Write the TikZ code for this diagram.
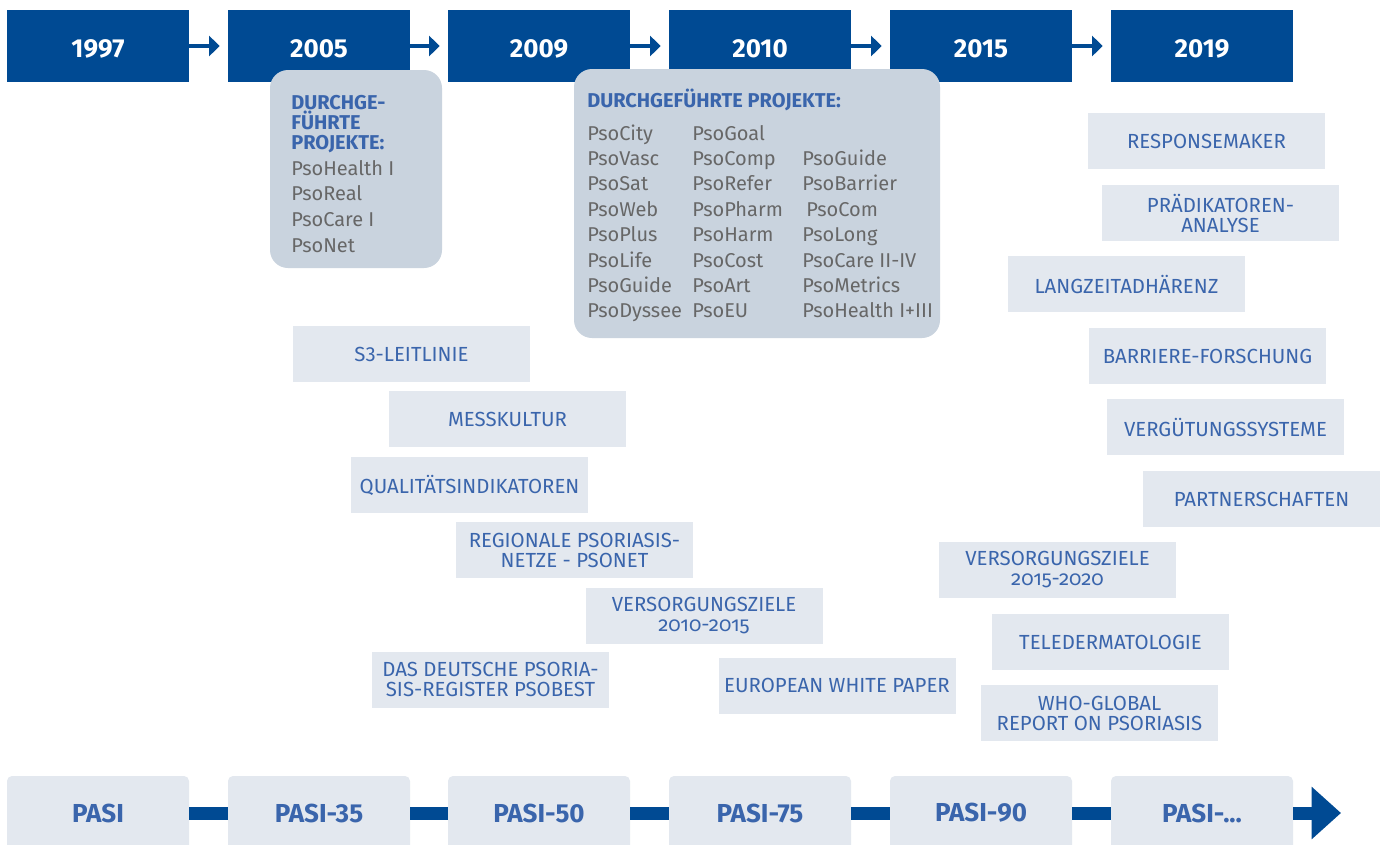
\documentclass[tikz,border=0pt]{standalone}
\usepackage{fontspec}
\setmainfont{Fira Sans}
\newfontfamily\osf[Numbers=OldStyle]{Fira Sans}
\usetikzlibrary{arrows.meta}
\definecolor{navy}{HTML}{004A93}
\definecolor{boxblue}{HTML}{E3E8EF}
\definecolor{projgray}{HTML}{C9D3DE}
\definecolor{labelblue}{HTML}{3A65AC}
\definecolor{itemgray}{HTML}{676767}
\begin{document}
\begin{tikzpicture}[x=0.75pt,y=-0.75pt,
  yearbox/.style={fill=navy, text=white, minimum width=136.5pt, minimum height=54pt,
    inner sep=0pt, text height=16.5pt, text depth=0pt,
    font=\fontsize{19.5}{21}\selectfont\bfseries},
  pasibox/.style={fill=boxblue, text=labelblue, rounded corners=3.75pt,
    minimum width=136.5pt, minimum height=55.5pt, inner sep=0pt,
    font=\fontsize{19.5}{21}\selectfont\bfseries},
  topicbox/.style={fill=boxblue, text=labelblue, minimum width=177.75pt,
    minimum height=42pt, inner sep=0pt, align=center,
    font=\fontsize{15.3}{15}\selectfont},
  projbox/.style={fill=projgray, rounded corners=13.5pt, inner sep=0pt},
  projhead/.style={anchor=base west, inner sep=0pt, text=labelblue,
    font=\fontsize{15}{15}\selectfont\bfseries},
  projitem/.style={anchor=base west, inner sep=0pt, text=itemgray,
    font=\fontsize{15}{18}\selectfont},
  flow/.style={navy, line width=2.6pt, -{Triangle[length=8pt,width=15pt]}},
  bar/.style={navy, line width=9.75pt},
]
\clip (0,0) rectangle (1384,844);
\fill[white] (0,0) rectangle (1384,844);

% year line
\node[yearbox] (y1997) at (98,46)   {1997};
\node[yearbox] (y2005) at (319,46)  {2005};
\node[yearbox] (y2009) at (539,46)  {2009};
\node[yearbox] (y2010) at (760,46)  {2010};
\node[yearbox] (y2015) at (981,46)  {2015};
\node[yearbox] (y2019) at (1202,46) {2019};
\foreach \a/\b in {y1997/y2005, y2005/y2009, y2009/y2010, y2010/y2015, y2015/y2019}
  \draw[flow, shorten >=6pt] (\a.east) -- (\b.west);

% projects 2005
\node[projbox, minimum width=129pt, minimum height=148.5pt] (proj05) at (356,169) {};
\foreach \t [count=\i] in {DURCHGE-, FÜHRTE, PROJEKTE:}
  \node[projhead] (h05-\i) at (291,{89+20*\i}) {\t};
\foreach \t [count=\i] in {PsoHealth I, PsoReal, PsoCare I, PsoNet}
  \node[projitem] (i05-\i) at (291,{149.5+25.7*\i}) {\t};

% projects 2010
\node[projbox, minimum width=274.5pt, minimum height=201.75pt] (proj10) at (757,203.5) {};
\node[projhead] (h10) at (587,107) {DURCHGEFÜHRTE PROJEKTE:};
\foreach \t [count=\i] in {PsoCity, PsoVasc, PsoSat, PsoWeb, PsoPlus, PsoLife, PsoGuide, PsoDyssee}
  \node[projitem] (ia-\i) at (587,{114.6+25.4*\i}) {\t};
\foreach \t [count=\i] in {PsoGoal, PsoComp, PsoRefer, PsoPharm, PsoHarm, PsoCost, PsoArt, PsoEU}
  \node[projitem] (ib-\i) at (692,{114.6+25.4*\i}) {\t};
\foreach \t/\r/\dx in {PsoGuide/2/0, PsoBarrier/3/0, PsoCom/4/4, PsoLong/5/0, PsoCare II-IV/6/0, PsoMetrics/7/0, PsoHealth I+III/8/0}
  \node[projitem] (ic-\r) at ({802+\dx},{114.6+25.4*\r}) {\t};

% topics
\node[topicbox] (s3)    at (411.5,354)  {S3-LEITLINIE};
\node[topicbox] (mess)  at (507.5,419)  {MESSKULTUR};
\node[topicbox] (qual)  at (469.5,485)  {QUALITÄTSINDIKATOREN};
\node[topicbox] (netz)  at (574.5,550)  {REGIONALE PSORIASIS-\\NETZE - PSONET};
\node[topicbox] (vz10)  at (704,615.5)  {VERSORGUNGSZIELE\\{\osf 2010-2015}};
\node[topicbox] (reg)   at (490.5,679.5){DAS DEUTSCHE PSORIA-\\SIS-REGISTER PSOBEST};
\node[topicbox] (ewp)   at (837,685.5)  {EUROPEAN WHITE PAPER};
\node[topicbox] (resp)  at (1206.5,141) {RESPONSEMAKER};
\node[topicbox] (praed) at (1220.5,213) {PRÄDIKATOREN-\\ANALYSE};
\node[topicbox] (lang)  at (1126.5,284) {LANGZEITADHÄRENZ};
\node[topicbox] (barr)  at (1207.5,356) {BARRIERE-FORSCHUNG};
\node[topicbox] (verg)  at (1225.5,427) {VERGÜTUNGSSYSTEME};
\node[topicbox] (part)  at (1261.5,499) {PARTNERSCHAFTEN};
\node[topicbox] (vz15)  at (1057.5,570) {VERSORGUNGSZIELE\\{\osf 2015-2020}};
\node[topicbox] (tele)  at (1110.5,642) {TELEDERMATOLOGIE};
\node[topicbox] (who)   at (1099.5,713) {WHO-GLOBAL\\REPORT ON PSORIASIS};

% PASI line
\node[pasibox] (p1) at (98,813)   {PASI};
\node[pasibox] (p2) at (319,813)  {PASI-35};
\node[pasibox] (p3) at (539,813)  {PASI-50};
\node[pasibox] (p4) at (760,813)  {PASI-75};
\node[pasibox] (p5) at (981,813)  {PASI-90};
\node[pasibox] (p6) at (1202,813) {PASI-...};
\foreach \a/\b in {p1/p2, p2/p3, p3/p4, p4/p5, p5/p6}
  \draw[bar] (\a.east) -- (\b.west);
\coordinate (tip) at (1341,813);
\draw[bar, -{Triangle[length=22pt,width=38pt]}] (p6.east) -- (tip);
\end{tikzpicture}
\end{document}
